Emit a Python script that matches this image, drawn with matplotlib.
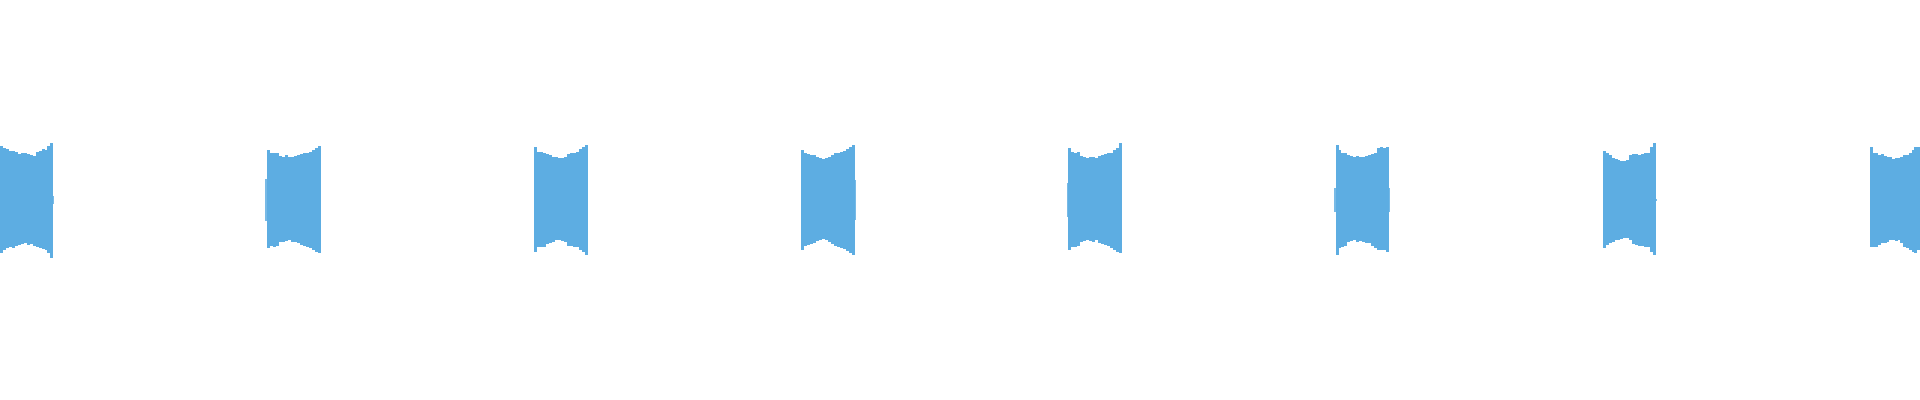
import numpy as np
import matplotlib
matplotlib.use("Agg")
import matplotlib.pyplot as plt

# beep bursts: start time (s) and duration (s)
burst_start = [0.0, 1.0, 2.0, 3.0, 4.0, 5.0, 6.0, 7.0]
burst_len = [0.2, 0.2, 0.2, 0.2, 0.2, 0.2, 0.2, 0.188]

# envelope of each burst (upper / lower peak amplitude)
env_top = [
    [54, 52, 51, 49, 49, 48, 46, 47, 47, 46, 45, 44, 48, 49, 51, 50, 54, 57],
    [50, 47, 47, 47, 44, 43, 45, 43, 43, 44, 45, 46, 47, 47, 48, 50, 52, 54],
    [53, 48, 48, 47, 46, 45, 43, 43, 42, 42, 43, 46, 47, 47, 48, 51, 53, 55],
    [50, 47, 46, 45, 45, 43, 42, 41, 42, 43, 45, 47, 47, 48, 49, 51, 53, 55],
    [52, 48, 47, 48, 44, 43, 42, 43, 43, 42, 44, 45, 46, 47, 47, 50, 52, 57],
    [55, 50, 47, 47, 45, 44, 43, 44, 43, 43, 44, 45, 46, 47, 52, 53, 52, 53],
    [49, 47, 45, 42, 41, 40, 39, 39, 40, 45, 46, 46, 45, 46, 47, 47, 53, 57],
    [53, 47, 47, 45, 46, 44, 43, 43, 41, 42, 42, 43, 45, 45, 47, 50, 53, 53],
]
env_bot = [
    [53, 50, 48, 47, 48, 46, 45, 44, 43, 45, 44, 46, 47, 48, 49, 50, 53, 58],
    [48, 46, 47, 46, 42, 42, 41, 40, 42, 42, 43, 45, 46, 47, 48, 50, 52, 53],
    [52, 47, 47, 47, 44, 43, 42, 40, 40, 41, 42, 46, 46, 47, 47, 50, 52, 55],
    [50, 46, 45, 44, 43, 41, 40, 39, 40, 42, 44, 46, 47, 48, 49, 51, 53, 55],
    [50, 47, 47, 46, 42, 41, 40, 41, 42, 40, 43, 44, 45, 46, 48, 50, 52, 53],
    [55, 48, 47, 46, 42, 41, 40, 42, 41, 42, 43, 43, 46, 48, 50, 50, 50, 52],
    [48, 45, 43, 42, 40, 40, 39, 38, 38, 40, 44, 45, 46, 46, 47, 47, 52, 55],
    [47, 47, 47, 45, 43, 43, 42, 40, 40, 41, 40, 43, 47, 48, 50, 52, 53, 50],
]

# short onset / release clicks around the bursts
click_time = [0.200, 0.996, 3.200, 3.998, 4.998, 5.200, 6.201]
click_amp = [4, 21, 20, 17, 12, 12, 1]

colour = "#5DADE2"

fig = plt.figure(figsize=(19.2, 4), dpi=100)
ax = fig.add_axes([0, 0, 1, 1])

for start, length, top, bot in zip(burst_start, burst_len, env_top, env_bot):
    n = len(top)
    edges = start + np.arange(n + 1) * length / n
    upper = np.append(top, top[-1])
    lower = -np.append(bot, bot[-1])
    ax.fill_between(edges, lower, upper, step="post", color=colour, linewidth=0)

ax.vlines(click_time, -np.array(click_amp), click_amp, color=colour, linewidth=1.2)

ax.set_xlim(0, 7.188)
ax.set_ylim(-200, 200)
ax.axis("off")

fig.savefig("out.png", dpi=100)
